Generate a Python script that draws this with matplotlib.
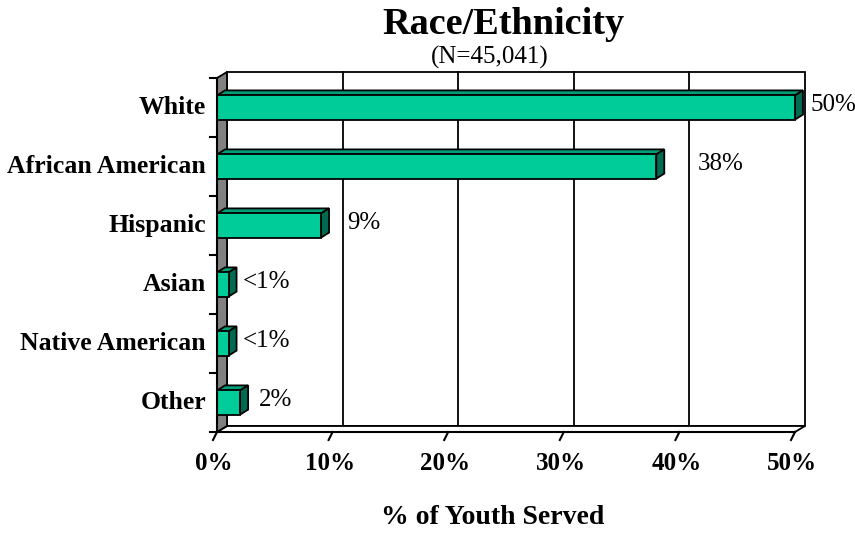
import numpy as np
import matplotlib
matplotlib.use('Agg')
import matplotlib.pyplot as plt
from matplotlib.patches import Polygon, Rectangle

plt.rcParams['font.family'] = ['Liberation Serif', 'DejaVu Serif']

# data (top to bottom as shown)
groups = ['White', 'African American', 'Hispanic', 'Asian', 'Native American', 'Other']
values = [50, 38, 9, 1, 1, 2]
labels = ['50%', '38%', '9%', '<1%', '<1%', '2%']
xticks = [0, 10, 20, 30, 40, 50]

# where excel dropped the value labels (in % units)
label_x = [51.3, 41.6, 11.3, 2.25, 2.25, 3.6]

face = '#00cc99'
top_c = '#009f78'
side_c = '#006b50'

fig = plt.figure(figsize=(8.55, 5.36), dpi=100)
W, H = 855, 536
# front plane of the 3d box in pixels
x0, x1 = 217, 795
y0, y1 = 432, 78
ax = fig.add_axes([x0 / W, 1 - y0 / H, (x1 - x0) / W, (y0 - y1) / H])
ax.set_xlim(0, 50)
ax.set_ylim(-0.5, 5.5)
ax.axis('off')

ppx = (x1 - x0) / 50.0   # px per %
ppy = (y0 - y1) / 6.0    # px per category
# depth offsets
wdx, wdy = 10 / ppx, 6 / ppy
bdx, bdy = 8 / ppx, 5 / ppy
bh = 0.41

kw = dict(clip_on=False, lw=1.3, edgecolor='black')

# back wall
ax.add_patch(Rectangle((wdx, -0.5 + wdy), 50, 6, facecolor='white', zorder=1, **kw))
for g in xticks[1:-1]:
    ax.plot([g + wdx, g + wdx], [-0.5 + wdy, 5.5 + wdy], color='black', lw=1.3,
            clip_on=False, zorder=1.5)
# floor
ax.add_patch(Polygon([(0, -0.5), (50, -0.5), (50 + wdx, -0.5 + wdy), (wdx, -0.5 + wdy)],
                     facecolor='white', zorder=2, **kw))
# left wall
ax.add_patch(Polygon([(0, -0.5), (wdx, -0.5 + wdy), (wdx, 5.5 + wdy), (0, 5.5)],
                     facecolor='#808080', zorder=2, **kw))

# bars
n = len(groups)
for i, (g, v, lab, lx) in enumerate(zip(groups, values, labels, label_x)):
    c = n - 1 - i
    yb, yt = c - bh / 2, c + bh / 2
    ax.add_patch(Polygon([(0, yt), (v, yt), (v + bdx, yt + bdy), (bdx, yt + bdy)],
                         facecolor=top_c, zorder=3, **kw))
    ax.add_patch(Polygon([(v, yb), (v + bdx, yb + bdy), (v + bdx, yt + bdy), (v, yt)],
                         facecolor=side_c, zorder=3, **kw))
    ax.add_patch(Rectangle((0, yb), v, bh, facecolor=face, zorder=4, **kw))
    ax.text(lx, c + 0.04, lab, ha='left', va='center', fontsize=18, zorder=5)
    ax.text(-11 / ppx, c, g, ha='right', va='center', fontsize=18.5, fontweight='bold')

# axis lines and ticks
ax.plot([0, 0], [-0.5, 5.5], color='black', lw=1.5, clip_on=False, zorder=5)
ax.plot([0, 50], [-0.5, -0.5], color='black', lw=1.5, clip_on=False, zorder=5)
for k in range(7):
    ax.plot([-7 / ppx, 0], [k - 0.5, k - 0.5], color='black', lw=1.5, clip_on=False)
for t in xticks:
    ax.plot([t, t - 4 / ppx], [-0.5, -0.5 - 8 / ppy], color='black', lw=1.5, clip_on=False)
    ax.text(t - 3 / ppx, -0.5 - 31 / ppy, f'{t}%', ha='center', va='center',
            fontsize=18, fontweight='bold')

fig.text(493 / W, 1 - 518 / H, '% of Youth Served', ha='center', va='center',
         fontsize=20, fontweight='bold')
fig.text(503 / W, 1 - 25 / H, 'Race/Ethnicity', ha='center', va='center',
         fontsize=27.5, fontweight='bold')
fig.text(490 / W, 1 - 57 / H, '(N=45,041)', ha='center', va='center', fontsize=18)

fig.savefig('out.png', dpi=100)
